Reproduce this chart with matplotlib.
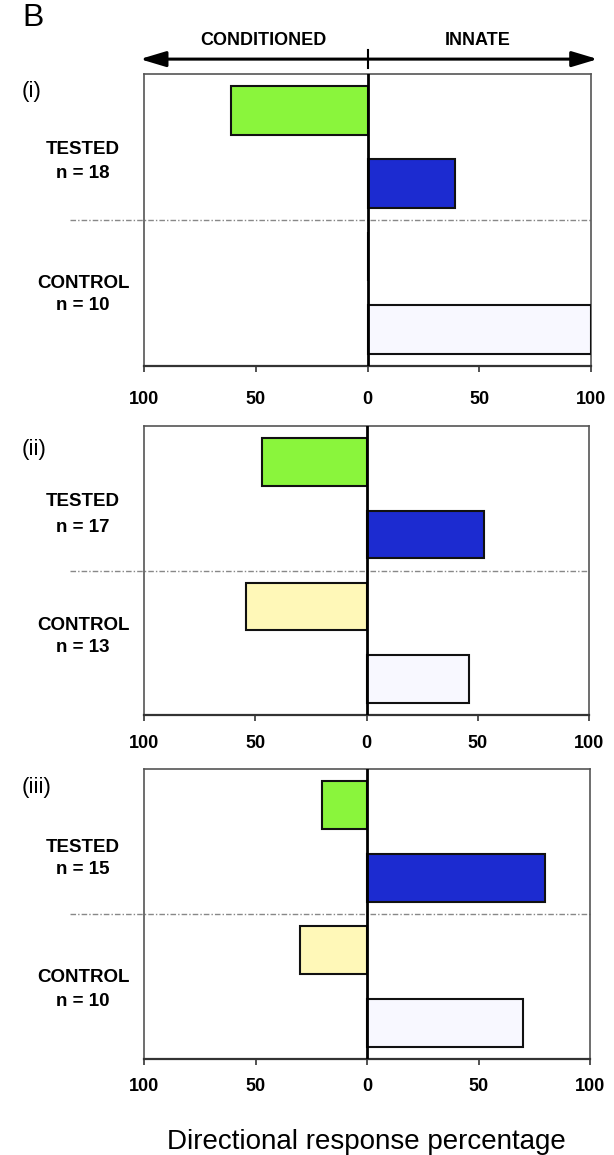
import matplotlib
matplotlib.use("Agg")
import matplotlib.pyplot as plt

plt.rcParams['font.family'] = ['Liberation Sans', 'DejaVu Sans']

# Directional responses per experiment (percent of animals)
panel_names = ["(i)", "(ii)", "(iii)"]
tested_n = [18, 17, 15]
control_n = [10, 13, 10]
tested_conditioned = [61, 47, 20]
tested_innate = [39, 53, 80]
control_conditioned = [0, 54, 30]
control_innate = [100, 46, 70]
tick_values = [-100, -50, 0, 50, 100]
tick_labels = ["100", "50", "0", "50", "100"]
side_labels = ["CONDITIONED", "INNATE"]
group_labels = ["TESTED", "CONTROL"]
x_title = "Directional response percentage"

bar_colors = ["#8af53c", "#1c2bd0", "#fff8b8", "#f8f8ff"]

W, H = 614, 1155
fig = plt.figure(figsize=(W / 100, H / 100), dpi=100)

# panel boxes in pixels: left, right, top, bottom
boxes = [(144, 591, 74, 366), (144, 589, 426, 715), (144, 590, 769, 1059)]
tick_pads = [14, 10.5, 9.7]
label_dy = [(75, 99, 209, 232), (76, 101, 200, 222), (78, 101, 208, 232)]
name_dy = [17, 23, 18]

axes = []
for i, (l, r, t, b) in enumerate(boxes):
    h = b - t
    ax = fig.add_axes([l / W, 1 - b / H, (r - l) / W, h / H])
    axes.append(ax)
    pos = [0, 1, 2, 3]
    vals = [-tested_conditioned[i], tested_innate[i],
            -control_conditioned[i], control_innate[i]]
    ax.barh(pos, vals, height=0.66, color=bar_colors, edgecolor="#111111",
            linewidth=1.5, zorder=3)
    ax.set_xlim(-100, 100)
    ax.set_ylim(3.5, -0.5)
    ax.axvline(0, color="black", lw=2, zorder=4)
    ax.set_yticks([])
    ax.set_xticks(tick_values, tick_labels)
    ax.tick_params(axis="x", direction="out", length=4, width=1.3,
                   color="#444444", labelsize=13, pad=tick_pads[i])
    for lbl in ax.get_xticklabels():
        lbl.set_fontweight("bold")
    for s in ax.spines.values():
        s.set_color("#555555")
        s.set_linewidth(1.2)
    ax.spines["bottom"].set_color("#333333")
    ax.spines["bottom"].set_linewidth(1.6)

    # separator between tested and control groups
    ax.plot([-0.166, 1.0], [1.5, 1.5], transform=ax.get_yaxis_transform(),
            clip_on=False, color="#888888", lw=1.0, dashes=[4, 1.5, 1, 1.5],
            zorder=2)

    lx = (83 - l) / (r - l)
    d1, d2, d3, d4 = label_dy[i]
    ax.text(lx, 1 - d1 / h, group_labels[0], transform=ax.transAxes,
            ha="center", va="center", fontsize=13.5, fontweight="bold")
    ax.text(lx, 1 - d2 / h, f"n = {tested_n[i]}", transform=ax.transAxes,
            ha="center", va="center", fontsize=13.5, fontweight="bold")
    ax.text(lx, 1 - d3 / h, group_labels[1], transform=ax.transAxes,
            ha="center", va="center", fontsize=13.5, fontweight="bold")
    ax.text(lx, 1 - d4 / h, f"n = {control_n[i]}", transform=ax.transAxes,
            ha="center", va="center", fontsize=13.5, fontweight="bold")
    ax.text((22 - l) / (r - l), 1 - name_dy[i] / h, panel_names[i],
            transform=ax.transAxes, ha="left", va="center", fontsize=16)

# double-headed direction arrow above the first panel
ax0 = axes[0]
ax0.annotate("", xy=(-101.8, 1.051), xytext=(103, 1.051),
             xycoords=("data", "axes fraction"),
             textcoords=("data", "axes fraction"),
             arrowprops=dict(arrowstyle="<|-|>,head_length=0.6,head_width=0.18",
                             mutation_scale=26, lw=2.2, color="black",
                             shrinkA=0, shrinkB=0),
             annotation_clip=False)
ax0.plot([0, 0], [1.021, 1.082], transform=ax0.get_xaxis_transform(),
         clip_on=False, color="black", lw=1.5)
ax0.text(-46.4, 1.116, side_labels[0], transform=ax0.get_xaxis_transform(),
         ha="center", va="center", fontsize=13, fontweight="bold")
ax0.text(49.3, 1.116, side_labels[1], transform=ax0.get_xaxis_transform(),
         ha="center", va="center", fontsize=13, fontweight="bold")

fig.text(22 / W, 1 - 18.5 / H, "B", fontsize=23, ha="left", va="center")
fig.text(366 / W, 1 - 1142 / H, x_title, fontsize=20, ha="center", va="center")

fig.savefig("out.png", dpi=100)
